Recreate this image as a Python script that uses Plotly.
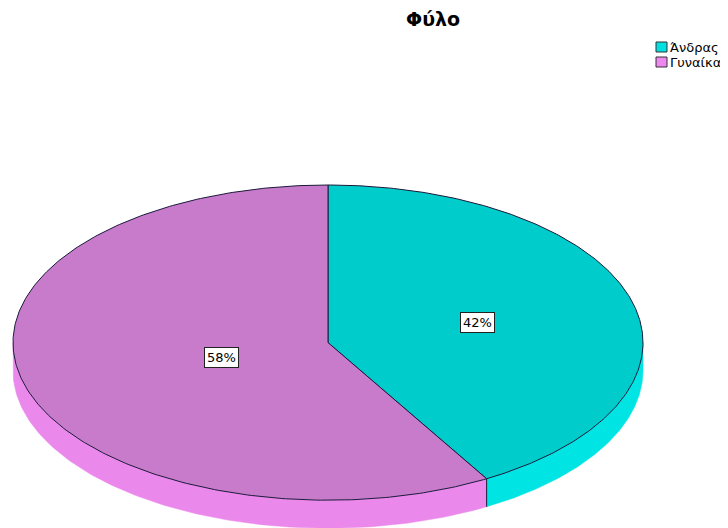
import numpy as np
import plotly.graph_objects as go

# ---- data ----
title = "Φύλο"
categories = ["Άνδρας", "Γυναίκα"]
values = [41.6, 58.4]          # percent
labels = ["42%", "58%"]

top_colors = ["#00CCCC", "#C97BCB"]
side_colors = ["#00E4E4", "#EB88EB"]
legend_colors = ["#00E0E0", "#EE88EE"]
edge = "#1a1a3a"

# ---- geometry (page-pixel space; page body has an 8px margin) ----
W, H = 728, 528
OFF = 8
cx, cy, rx, ry, depth = 328, 342.6, 315, 157.6, 28

def pt(theta_deg, dy=0.0):
    t = np.radians(theta_deg)
    return cx + rx * np.sin(t), cy - ry * np.cos(t) + dy

fig = go.Figure()
total = float(sum(values))
starts, ends = [], []
a = 0.0
for v in values:
    starts.append(a)
    a += 360.0 * v / total
    ends.append(a)

# sides (front half 90..270)
for i in range(len(values)):
    s, e = max(starts[i], 90), min(ends[i], 270)
    if e <= s:
        continue
    th = np.linspace(s, e, 120)
    xt, yt = pt(th)
    xb, yb = pt(th[::-1], depth)
    fig.add_trace(go.Scatter(x=np.r_[xt, xb, xt[0]], y=np.r_[yt, yb, yt[0]],
                             fill="toself", fillcolor=side_colors[i], mode="lines",
                             line=dict(color=side_colors[i], width=0.5),
                             hoverinfo="skip", showlegend=False))
# vertical side edges at slice boundaries within front
for b in ends[:-1]:
    if 90 < b < 270:
        x0, y0 = pt(b)
        x1, y1 = pt(b, depth)
        fig.add_trace(go.Scatter(x=[x0, x1], y=[y0, y1], mode="lines",
                                 line=dict(color=edge, width=1), hoverinfo="skip", showlegend=False))
# top faces
for i in range(len(values)):
    th = np.linspace(starts[i], ends[i], 300)
    xa, ya = pt(th)
    fig.add_trace(go.Scatter(x=np.r_[cx, xa, cx], y=np.r_[cy, ya, cy],
                             fill="toself", fillcolor=top_colors[i], mode="lines",
                             line=dict(color=edge, width=1),
                             hoverinfo="skip", showlegend=False))

# labels at sector centroids
for i in range(len(values)):
    alpha = np.radians(ends[i] - starts[i])
    f = 4 * np.sin(alpha / 2) / (3 * alpha)
    mid = np.radians((starts[i] + ends[i]) / 2)
    lx = cx + rx * f * np.sin(mid)
    ly = cy - ry * f * np.cos(mid)
    fig.add_annotation(x=lx, y=ly, text=labels[i], showarrow=False,
                       font=dict(family="DejaVu Sans", size=13, color="black"),
                       bgcolor="white", bordercolor="#222", borderwidth=1, borderpad=2)

# legend (manual)
for i, c in enumerate(categories):
    y0 = 42 + i * 15
    fig.add_shape(type="rect", x0=656, x1=667, y0=y0, y1=y0 + 10,
                  fillcolor=legend_colors[i], line=dict(color="#333", width=1))
    fig.add_annotation(x=668, y=y0 + 5, text=c, showarrow=False, xanchor="left",
                       font=dict(family="DejaVu Sans", size=13, color="black"))

fig.add_annotation(x=433, y=19, text="<b>" + title + "</b>", showarrow=False,
                   font=dict(family="DejaVu Sans", size=19, color="black"))

fig.update_layout(width=W, height=H, margin=dict(l=0, r=0, t=0, b=0),
                  paper_bgcolor="white", plot_bgcolor="white",
                  xaxis=dict(range=[OFF, W + OFF], visible=False, fixedrange=True),
                  yaxis=dict(range=[H + OFF, OFF], visible=False, fixedrange=True))
fig.write_html("out.html")
